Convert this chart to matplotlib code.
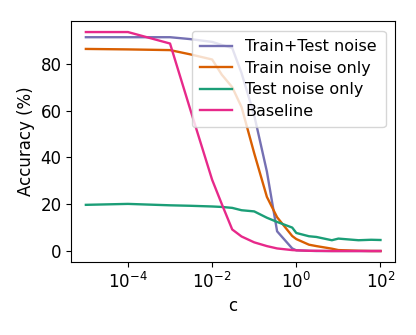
import matplotlib
matplotlib.use("Agg")
import matplotlib.pyplot as plt
import matplotlib.ticker as mticker

c = [1e-5, 1e-4, 1e-3, 3e-3, 1e-2, 1.7e-2, 3e-2, 5e-2, 0.1, 0.2, 0.35, 0.8, 1, 2, 3, 7, 10, 30, 60, 100]

train_test = [91.3, 91.3, 91.3, 90.5, 89.3, 88.0, 86.7, 76.0, 58.0, 34.0, 8.5, 1.2, 0.4, 0.2, 0.1, 0.1, 0.1, 0.1, 0.1, 0.1]
train_only = [86.3, 86.1, 85.8, 84.0, 81.8, 75.3, 70.0, 61.5, 41.8, 23.2, 14.5, 6.5, 5.2, 2.8, 2.2, 1.1, 0.5, 0.2, 0.1, 0.1]
test_only = [19.8, 20.2, 19.6, 19.4, 19.1, 18.9, 18.5, 17.5, 17.0, 14.3, 12.5, 10.1, 7.8, 6.4, 6.1, 4.7, 5.4, 4.7, 4.9, 4.8]
baseline = [93.5, 93.5, 88.6, 60.7, 30.5, 20.1, 9.3, 6.3, 3.8, 2.2, 1.2, 0.5, 0.4, 0.2, 0.2, 0.1, 0.1, 0.1, 0.1, 0.1]

labels = ["Train+Test noise", "Train noise only", "Test noise only", "Baseline"]
colors = ["#7570b3", "#d95f02", "#1b9e77", "#e7298a"]

plt.rcParams["font.size"] = 12
fig = plt.figure(figsize=(4.16, 3.35), dpi=100)
ax = fig.add_axes([0.171, 0.218, 0.779, 0.719])
for ys, lab, col in zip([train_test, train_only, test_only, baseline], labels, colors):
    ax.plot(c, ys, color=col, lw=1.7, label=lab)
ax.set_xscale("log")
ax.set_xticks([1e-4, 1e-2, 1e0, 1e2])
ax.xaxis.set_minor_locator(mticker.NullLocator())
ax.set_yticks([0, 20, 40, 60, 80])
ax.set_xlabel("c")
ax.set_ylabel("Accuracy (%)")
ax.legend(loc="upper right", fontsize=11.5, labelspacing=0.4,
          borderpad=0.55, borderaxespad=0.6)
fig.savefig("out.png", dpi=100)
